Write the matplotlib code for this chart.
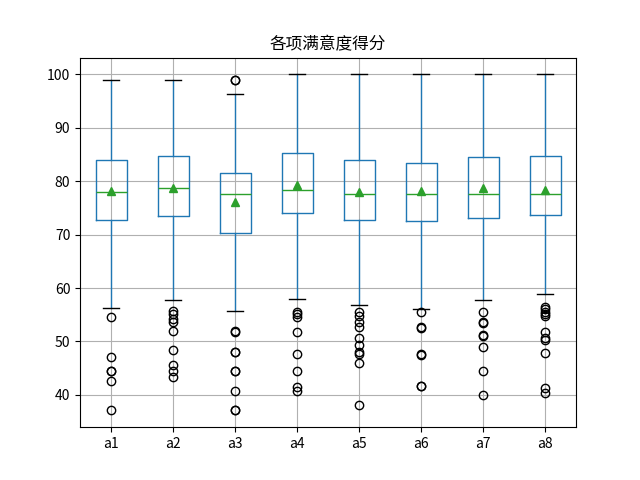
import matplotlib
matplotlib.use("Agg")
import matplotlib.pyplot as plt

plt.rcParams['font.family'] = ['Noto Sans CJK SC', 'DejaVu Sans']
plt.rcParams['axes.unicode_minus'] = False

labels = ['a1', 'a2', 'a3', 'a4', 'a5', 'a6', 'a7', 'a8']
q1 = [72.7, 73.5, 70.4, 74.0, 72.7, 72.5, 73.2, 73.6]
med = [77.9, 78.7, 77.7, 78.3, 77.7, 77.7, 77.7, 77.7]
q3 = [84.0, 84.7, 81.5, 85.2, 84.0, 83.5, 84.5, 84.7]
whislo = [56.3, 57.7, 55.7, 57.9, 56.8, 56.0, 57.8, 58.8]
whishi = [98.9, 98.9, 96.3, 100.0, 100.0, 100.0, 100.0, 100.0]
means = [78.2, 78.7, 76.2, 79.3, 77.9, 78.2, 78.7, 78.4]
fliers = [
    [54.5, 47.1, 44.5, 44.4, 42.6, 37.2],
    [55.8, 55.2, 54.3, 53.7, 51.9, 48.5, 45.6, 44.4, 43.4],
    [98.9, 98.9, 52.0, 51.8, 48.1, 48.0, 44.5, 44.4, 40.7, 37.2, 37.1],
    [55.5, 55.2, 54.6, 51.8, 47.6, 44.5, 41.4, 40.7],
    [55.5, 54.7, 53.7, 52.7, 50.6, 49.4, 48.1, 47.7, 46.0, 38.1],
    [55.5, 52.8, 52.6, 47.7, 47.5, 41.7, 41.6],
    [55.5, 53.7, 53.4, 51.2, 51.0, 48.9, 44.5, 40.0],
    [56.5, 56.0, 55.5, 55.1, 54.7, 51.8, 50.6, 50.3, 47.8, 41.3, 40.3],
]

stats = []
for i, lab in enumerate(labels):
    stats.append(dict(label=lab, q1=q1[i], med=med[i], q3=q3[i],
                      whislo=whislo[i], whishi=whishi[i], mean=means[i],
                      fliers=fliers[i]))

fig, ax = plt.subplots(figsize=(6.4, 4.8), dpi=100)
ax.bxp(stats, showmeans=True,
       boxprops=dict(color='#1f77b4'),
       whiskerprops=dict(color='#1f77b4'),
       medianprops=dict(color='#2ca02c'),
       capprops=dict(color='black'),
       flierprops=dict(marker='o', markeredgecolor='black', markerfacecolor='none'),
       meanprops=dict(marker='^', markerfacecolor='#2ca02c', markeredgecolor='#2ca02c'))
ax.grid(True)
ax.set_axisbelow(True)
ax.set_title('各项满意度得分')
fig.savefig('out.png', dpi=100)
